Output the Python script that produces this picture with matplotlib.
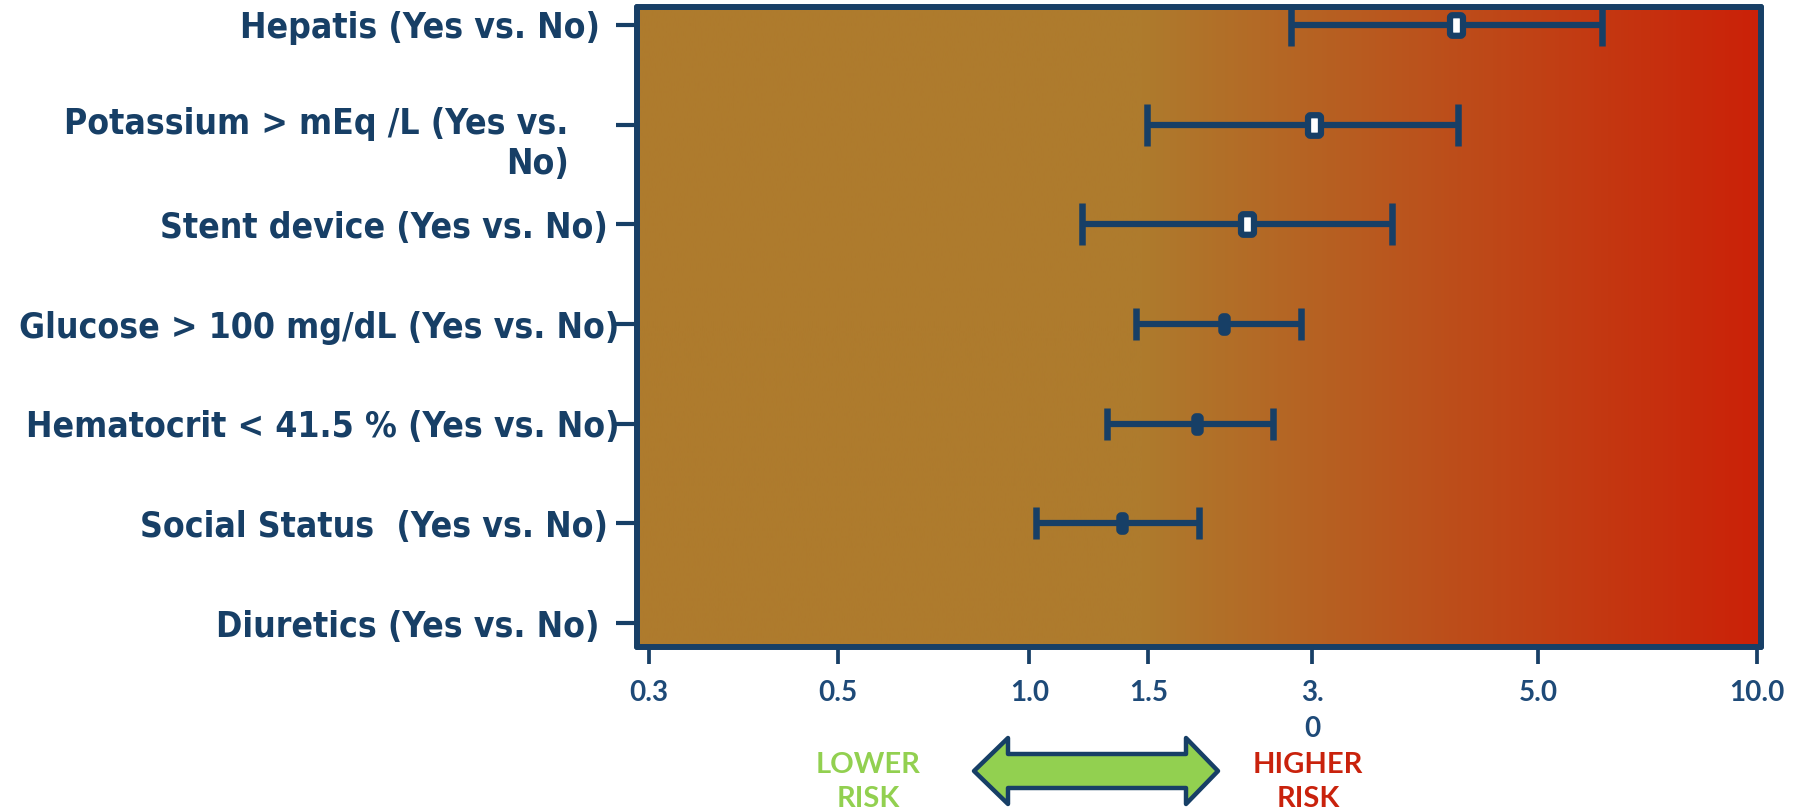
import numpy as np
import matplotlib
matplotlib.use("Agg")
import matplotlib.pyplot as plt
from matplotlib.colors import LinearSegmentedColormap
from matplotlib.patches import Polygon, BoxStyle
from matplotlib.transforms import ScaledTranslation

# data (odds ratio with 95% CI)
labels = ["Hepatis (Yes vs. No)",
          "Potassium > mEq /L (Yes vs.\nNo)",
          "Stent device (Yes vs. No)",
          "Glucose > 100 mg/dL (Yes vs. No)",
          "Hematocrit < 41.5 % (Yes vs. No)",
          "Social Status  (Yes vs. No)",
          "Diuretics (Yes vs. No)"]
odds = [3.86, 2.46, 1.99, 1.85, 1.70, 1.34, np.nan]
ci_low = [2.29, 1.45, 1.18, 1.40, 1.28, 1.02, np.nan]
ci_high = [6.12, 3.88, 3.15, 2.36, 2.16, 1.71, np.nan]

tick_vals = [0.3, 0.546, 1.0, 1.457, 2.45, 5.0, 10.0]
tick_text = ["0.3", "0.5", "1.0", "1.5", "3.\n0", "5.0", "10.0"]

navy = "#173f66"
tick_blue = "#1e4a78"

W, H = 1803, 809
fig = plt.figure(figsize=(W / 100, H / 100), dpi=100)
fig.patch.set_facecolor("white")

pos = [637 / W, 1 - 647 / H, (1761 - 637) / W, (647 - 7) / H]

# gradient background
bg = fig.add_axes(pos, zorder=0)
cmap = LinearSegmentedColormap.from_list(
    "bg", [(0, "#ae7b2d"), (0.45, "#ae7b2d"), (1.0, "#cb2108")])
bg.imshow(np.linspace(0, 1, 600).reshape(1, -1), cmap=cmap, aspect="auto",
          extent=(0, 1, 0, 1))
bg.axis("off")

ax = fig.add_axes(pos, zorder=1)
ax.set_facecolor("none")
ax.set_xscale("log")

y = np.arange(len(labels))
odds_a = np.array(odds)
err = [odds_a - np.array(ci_low), np.array(ci_high) - odds_a]


def rounded_box(aspect):
    return BoxStyle.Round(pad=0, rounding_size=0.12)(-aspect / 2, -0.5, aspect, 1.0, 1.0)


for i in range(len(labels)):
    if np.isnan(odds[i]):
        continue
    big = i < 3
    ax.errorbar(odds[i], y[i], xerr=[[err[0][i]], [err[1][i]]], fmt="none",
                ecolor=navy, elinewidth=4.5, capthick=4.7,
                capsize=14.8 if big else 11.2, zorder=3)
    ax.plot(odds[i], y[i], linestyle="none",
            marker=rounded_box(0.63 if big else 0.38),
            ms=14.8 if big else 11.8, mfc="white", mec=navy, mew=4.5, zorder=4)

ax.set_xlim(0.289, 10.13)
ax.set_ylim(6.24, -0.18)

ax.set_yticks(y)
ax.set_yticklabels(labels, fontsize=25.5, fontweight="bold", color=navy,
                   fontfamily="DejaVu Sans", fontstretch="condensed")

ax.set_xticks(tick_vals)
ax.set_xticklabels(tick_text, fontsize=20, fontweight="bold", color=tick_blue,
                   fontfamily="Lato", linespacing=1.45)
ax.xaxis.set_minor_locator(matplotlib.ticker.NullLocator())

ax.tick_params(axis="y", length=15, width=3, color=navy, pad=6)
ax.tick_params(axis="x", length=12, width=2.7, color=navy, pad=12)

# per-label nudges (px, x right / y up), applied after tick_params
label_shift = [(-8, 0), (-39, -13), (0, 0), (12, 0), (12, 0), (0, 0), (-8, 0)]
for lab, (dx, dy) in zip(ax.get_yticklabels(), label_shift):
    lab.set_transform(lab.get_transform()
                      + ScaledTranslation(dx / 100, dy / 100, fig.dpi_scale_trans))

for s in ax.spines.values():
    s.set_color(navy)
    s.set_linewidth(4.3)
    s.set_capstyle("round")

# risk legend under the axis
fig.text(868 / W, 1 - 782 / H, "LOWER\nRISK", ha="center", va="center",
         fontsize=21, fontweight="bold", color="#92d050",
         fontfamily="Lato", linespacing=1.35)
fig.text(1308 / W, 1 - 782 / H, "HIGHER\nRISK", ha="center", va="center",
         fontsize=21, fontweight="bold", color="#c9220c",
         fontfamily="Lato", linespacing=1.35)

arrow_px = [(974, 771), (1008, 738), (1008, 754), (1186, 754), (1186, 738),
            (1218, 771), (1186, 804), (1186, 788), (1008, 788), (1008, 804)]
arrow = Polygon([(px / W, 1 - py / H) for px, py in arrow_px], closed=True,
                transform=fig.transFigure, facecolor="#92d050", edgecolor=navy,
                linewidth=3.2, joinstyle="round")
fig.patches.append(arrow)

fig.savefig("out.png", dpi=100)
